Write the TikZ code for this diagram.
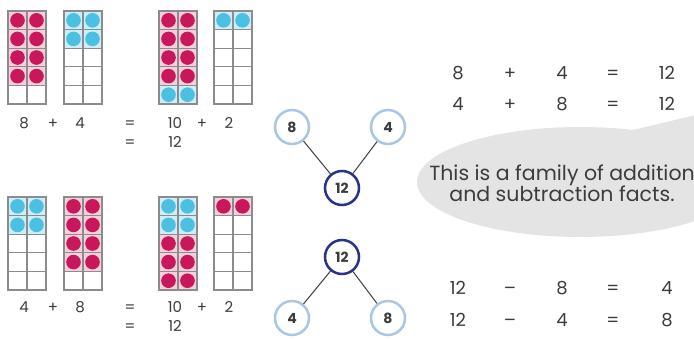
\documentclass[tikz,border=0pt]{standalone}
\usepackage{fontspec}
\setmainfont{Poppins}
\usetikzlibrary{positioning}

\definecolor{dotred}{HTML}{C8175A}
\definecolor{cellpink}{HTML}{F8D0DC}
\definecolor{dotblue}{HTML}{4CC0E0}
\definecolor{cellblue}{HTML}{CDEDF8}
\definecolor{gridgray}{HTML}{8C8C8C}
\definecolor{partblue}{HTML}{A9C6E2}
\definecolor{wholeblue}{HTML}{26338A}
\definecolor{bubblegray}{HTML}{E4E4E4}
\definecolor{numgray}{HTML}{3C3C3C}
% counter / cell colours picked by the row codes R, B, E
\colorlet{R}{dotred}  \colorlet{Rbg}{cellpink}
\colorlet{B}{dotblue} \colorlet{Bbg}{cellblue}
\colorlet{E}{white}   \colorlet{Ebg}{white}

% ten-frame: top-left x, top-left y, five row codes
\newcommand{\tenframe}[3]{%
  \foreach \c [count=\i] in {#3} {
    \fill[\c bg] (#1, #2+18.6*\i-18.6) rectangle ++(38, 18.6);
    \fill[\c] (#1+9.5, #2+18.6*\i-9.3) circle (7.3);
    \fill[\c] (#1+28.5, #2+18.6*\i-9.3) circle (7.3);
  }
  \foreach \i in {1,...,4}
    \draw[gridline] (#1, #2+18.6*\i) -- ++(38, 0);
  \draw[gridline] (#1+19, #2) -- ++(0, 93);
  \draw[gridline] (#1, #2) rectangle ++(38, 93);
}

\begin{document}
\begin{tikzpicture}[
        x=1pt, y=-1pt,
        gridline/.style={draw=gridgray, line width=1.2pt},
        eqn/.style={font=\fontsize{15}{17}\selectfont, text=numgray, inner sep=1pt, text height=10.5pt, text depth=0pt},
        fact/.style={font=\fontsize{18}{20}\selectfont, text=numgray, inner sep=1pt, text height=12.5pt, text depth=0pt},
        part/.style={circle, draw=partblue, line width=2.5pt, fill=white, minimum size=34pt, inner sep=0pt, font=\bfseries\fontsize{14}{16}\selectfont, text=numgray},
        whole/.style={part, draw=wholeblue},
        link/.style={draw=numgray, line width=1pt}
    ]
        \useasboundingbox (0,0) rectangle (694,338);
        \clip (0,0) rectangle (694,338);

        % Top ten-frames: 8 + 4 = 10 + 2
        \tenframe{8}{11}{R,R,R,R,E}
        \tenframe{64}{11}{B,B,E,E,E}
        \tenframe{159}{11}{R,R,R,R,B}
        \tenframe{214}{11}{B,E,E,E,E}

        \node[eqn] (ta) at (24,123) {8};
        \node[eqn] (tplus) at (53,123) {+};
        \node[eqn] (tb) at (80,123) {4};
        \node[eqn] (teq) at (130,123) {=};
        \node[eqn] (tten) at (175,123) {10};
        \node[eqn] (tplusb) at (202,123) {+};
        \node[eqn] (ttwo) at (229,123) {2};
        \node[eqn] (teqb) at (130,142) {=};
        \node[eqn] (tsum) at (175,142) {12};

        % Bottom ten-frames: 4 + 8 = 10 + 2
        \tenframe{8}{197}{B,B,E,E,E}
        \tenframe{64}{197}{R,R,R,R,E}
        \tenframe{159}{197}{B,B,R,R,R}
        \tenframe{214}{197}{R,E,E,E,E}

        \node[eqn] (ba) at (24,307) {4};
        \node[eqn] (bplus) at (53,307) {+};
        \node[eqn] (bb) at (80,307) {8};
        \node[eqn] (beq) at (130,307) {=};
        \node[eqn] (bten) at (175,307) {10};
        \node[eqn] (bplusb) at (202,307) {+};
        \node[eqn] (btwo) at (229,307) {2};
        \node[eqn] (beqb) at (130,326) {=};
        \node[eqn] (bsum) at (175,326) {12};

        % Part-whole models
        \node[part] (upa) at (292,127) {8};
        \node[part] (upb) at (388,127) {4};
        \node[whole] (upw) at (342,188) {12};
        \draw[link] (upa) -- (upw);
        \draw[link] (upb) -- (upw);

        \node[whole] (dnw) at (342,257) {12};
        \node[part] (dna) at (292,318) {4};
        \node[part] (dnb) at (388,318) {8};
        \draw[link] (dnw) -- (dna);
        \draw[link] (dnw) -- (dnb);

        % Speech bubble
        \fill[bubblegray] (580,182) ellipse [x radius=163, y radius=55];
        \fill[bubblegray] (620,133) -- (700,114) -- (705,170) -- cycle;
        \node[fact, align=center, font=\fontsize{20.5}{21}\selectfont, text height=, text depth=] (family) at (562,183)
            {This is a family of addition\\and subtraction facts.};

        % Fact family
        \node[fact] (fa) at (458,73) {8};
        \node[fact] (fplus) at (510,73) {+};
        \node[fact] (fb) at (562,73) {4};
        \node[fact] (feq) at (613,73) {=};
        \node[fact] (fsum) at (667,73) {12};
        \node[fact] (ga) at (458,104) {4};
        \node[fact] (gplus) at (510,104) {+};
        \node[fact] (gb) at (562,104) {8};
        \node[fact] (geq) at (613,104) {=};
        \node[fact] (gsum) at (667,104) {12};

        \node[fact] (ha) at (458,288) {12};
        \node[fact] (hminus) at (510,288) {–};
        \node[fact] (hb) at (562,288) {8};
        \node[fact] (heq) at (613,288) {=};
        \node[fact] (hdiff) at (667,288) {4};
        \node[fact] (ka) at (458,320) {12};
        \node[fact] (kminus) at (510,320) {–};
        \node[fact] (kb) at (562,320) {4};
        \node[fact] (keq) at (613,320) {=};
        \node[fact] (kdiff) at (667,320) {8};
    \end{tikzpicture}
\end{document}
